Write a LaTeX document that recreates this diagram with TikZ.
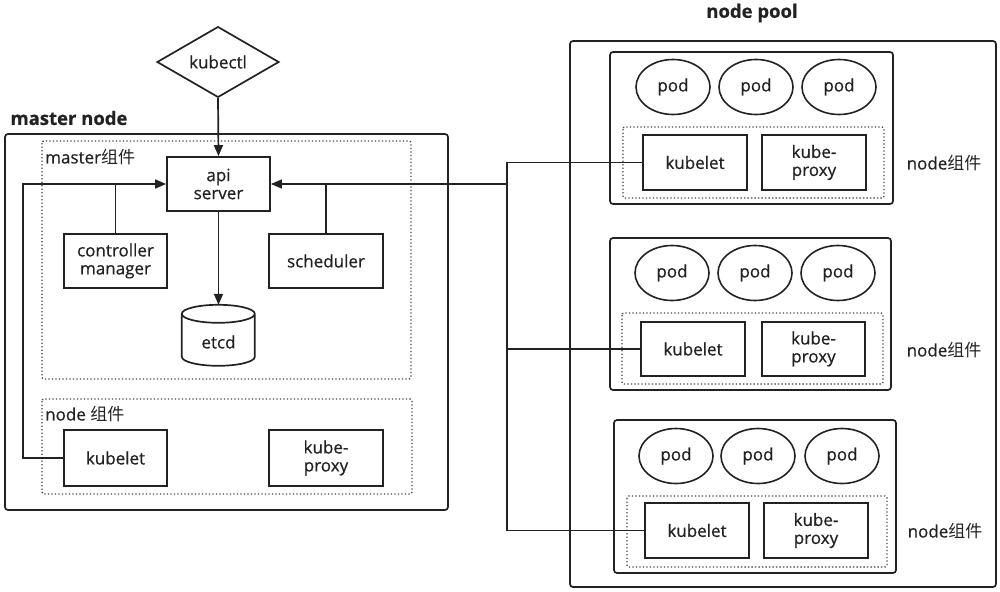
\documentclass[tikz,border=0pt]{standalone}
\usepackage{fontspec}
\setmainfont{Open Sans}[FakeBold=0.6]
\newfontfamily\cjk{Noto Sans CJK SC}
\usetikzlibrary{shapes.geometric,arrows.meta}
\definecolor{ink}{HTML}{222222}
\begin{document}
\begin{tikzpicture}[x=1pt,y=-1pt,
  every node/.style={font=\fontsize{17}{18}\selectfont, text=ink, align=center},
  box/.style={draw=ink, line width=1.8pt, rectangle, inner sep=0pt},
  pod/.style={draw=ink, line width=1.6pt, ellipse, inner sep=0pt, minimum width=74pt, minimum height=55pt},
  frame/.style={draw=ink, line width=1.7pt, rounded corners=3pt},
  grp/.style={draw=ink!85, line width=1.4pt, dash pattern=on 1.3pt off 2.2pt, rounded corners=2pt},
  link/.style={draw=ink, line width=1.7pt},
  arr/.style={link, -{Triangle[length=11pt,width=9pt]}},
  title/.style={font=\fontsize{18.5}{20}\selectfont\bfseries, anchor=west},
  grplabel/.style={anchor=west, inner sep=0pt}]
\useasboundingbox (0,0) rectangle (1000,591);

% ---- titles ----
\node[title] (tmaster) at (7,118) {master node};
\node[font=\fontsize{18.5}{20}\selectfont\bfseries] (tpool) at (752,13) {node pool};

% ---- master node ----
\draw[frame] (5,134) rectangle (448,510);
\draw[grp] (42,141) rectangle (411,379);
\node[grplabel] (lmaster) at (45,157) {master{\cjk 组件}};
\draw[grp] (42,399) rectangle (412,494);
\node[grplabel] (lnodem) at (45,414) {node {\cjk 组件}};

\node[draw=ink, line width=1.7pt, shape=diamond, inner sep=0pt, minimum width=122pt, minimum height=62pt] (kubectl) at (218,62) {kubectl};
\node[box, minimum width=103pt, minimum height=54pt] (api) at (218.5,184) {api\\server};
\node[box, minimum width=103pt, minimum height=54pt] (ctrl) at (115.5,261) {controller\\manager};
\node[box, minimum width=114pt, minimum height=54pt] (sched) at (326,261) {scheduler};
% etcd: a cylinder drawn around an invisible anchor node
\node[minimum width=73pt, minimum height=61pt, inner sep=0pt] (etcd) at (218.5,335.5) {};
\draw[draw=ink, line width=1.7pt]
  (etcd.north west) ++(0,9) coordinate (ctl)
  (ctl) arc[x radius=36.5, y radius=9, start angle=180, end angle=0]
  arc[x radius=36.5, y radius=9, start angle=0, end angle=-180]
  (ctl) -- ++(0,43) arc[x radius=36.5, y radius=9, start angle=180, end angle=0] -- ++(0,-43);
\node at (218.5,342) {etcd};
\node[box, minimum width=103pt, minimum height=56pt] (kubm) at (115.5,458) {kubelet};
\node[box, minimum width=114pt, minimum height=56pt] (proxym) at (326,458) {kube-\\proxy};

% ---- node pool ----
\draw[frame] (570,41) rectangle (996,587);

% worker 1
\draw[frame] (610,52) rectangle (893,204);
\node[pod] (p11) at (673,87) {pod};
\node[pod] (p12) at (756,87) {pod};
\node[pod] (p13) at (839,87) {pod};
\draw[grp] (623,127) rectangle (884,198);
\node[box, minimum width=104pt, minimum height=55pt] (kub1) at (695,162.5) {kubelet};
\node[box, minimum width=104pt, minimum height=55pt] (prx1) at (814,162.5) {kube-\\proxy};
\node (l1) at (944,163) {node{\cjk 组件}};

% worker 2
\draw[frame] (610,238) rectangle (891,390);
\node[pod] (p21) at (672,273) {pod};
\node[pod] (p22) at (755,273) {pod};
\node[pod] (p23) at (838,273) {pod};
\draw[grp] (622,313) rectangle (883,384);
\node[box, minimum width=104pt, minimum height=54pt] (kub2) at (693,349) {kubelet};
\node[box, minimum width=103pt, minimum height=54pt] (prx2) at (813.5,349) {kube-\\proxy};
\node (l2) at (944,350) {node{\cjk 组件}};

% worker 3
\draw[frame] (614,420) rectangle (896,573);
\node[pod] (p31) at (676,456) {pod};
\node[pod] (p32) at (758,456) {pod};
\node[pod] (p33) at (842,456) {pod};
\draw[grp] (627,496) rectangle (887,567);
\node[box, minimum width=104pt, minimum height=55pt] (kub3) at (697,530.5) {kubelet};
\node[box, minimum width=104pt, minimum height=55pt] (prx3) at (816,530.5) {kube-\\proxy};
\node (l3) at (945,531) {node{\cjk 组件}};

% ---- connectors ----
\draw[arr] (kubectl.south) -- (api.north);
\draw[arr] (api.south) -- (etcd.north);
\coordinate (lbus) at (23,184);
\draw[arr] (kubm.west) -| (lbus) -- (api.west);
\draw[link] (ctrl.north) -- (ctrl.north |- api.west);
\coordinate (rbus) at (507,184);
\draw[arr] (rbus) -- (api.east);
\draw[link] (sched.north) -- (sched.north |- api.east);
\draw[link] (kub1.west) -| (rbus) -- (rbus |- kub3.west) -- (kub3.west);
\draw[link] (kub2.west) -- (rbus |- kub2.west);
\end{tikzpicture}
\end{document}
